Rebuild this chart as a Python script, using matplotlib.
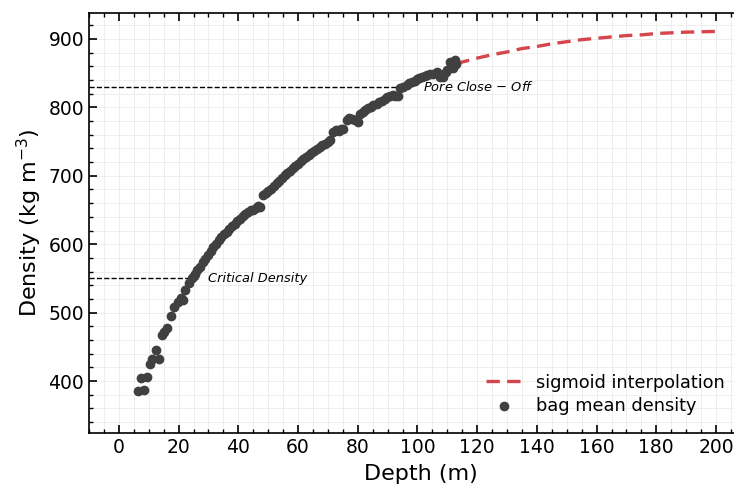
import matplotlib.pyplot as plt
from matplotlib.ticker import MultipleLocator

# bag mean density (depth in m, density in kg m^-3)
depth = [6.5, 7.4, 8.5, 9.4, 10.4, 11.2, 12.4, 13.4, 14.5, 15.2, 16.0, 17.4,
         18.5, 19.7, 20.8, 21.5, 22.3, 23.5, 24.4, 25.0, 25.5, 26.3, 27.1, 28.2,
         28.8, 29.9, 30.7, 31.6, 32.5, 33.4, 34.3, 35.2, 36.1, 37.0, 37.9, 38.8,
         39.7, 40.6, 41.5, 42.4, 43.3, 44.2, 45.0, 45.9, 46.6, 47.2, 48.3, 49.2,
         50.1, 51.0, 51.9, 52.8, 53.7, 54.6, 55.5, 56.4, 57.3, 58.2, 59.1, 60.0,
         60.9, 61.8, 62.7, 63.6, 64.5, 65.4, 66.3, 67.2, 68.1, 69.0, 69.9, 70.7,
         71.8, 72.7, 73.6, 74.5, 75.1, 76.3, 77.2, 78.1, 79.0, 80.2, 80.7, 81.6,
         82.5, 83.4, 84.3, 85.2, 86.3, 87.2, 88.1, 89.0, 89.9, 90.8, 91.7, 92.6,
         93.6, 94.0, 95.0, 96.4, 97.3, 98.2, 99.2, 99.7, 100.6, 101.5, 102.4,
         103.3, 104.2, 105.3, 106.5, 107.5, 108.5, 109.4, 110.0, 110.9, 111.8,
         112.5, 113.0]
density = [386, 404, 387, 406, 425, 432, 446, 432, 467, 472, 477, 495,
           508, 516, 521, 519, 533, 543, 550, 553, 557, 562, 567, 574,
           579, 584, 590, 596, 600, 606, 611, 615, 618, 622, 626, 630,
           634, 637, 641, 644, 647, 650, 650, 653, 656, 655, 672, 675,
           678, 681, 685, 689, 693, 697, 701, 704, 707, 711, 714, 717,
           721, 724, 728, 731, 733, 736, 739, 742, 745, 747, 750, 752,
           764, 767, 765, 769, 768, 782, 785, 783, 781, 778, 791, 793,
           796, 799, 801, 803, 805, 808, 810, 812, 815, 817, 818, 816,
           817, 828, 830, 832, 835, 837, 839, 842, 843, 845, 846,
           848, 849, 849, 852, 845, 844, 852, 854, 867, 858,
           869, 864]

# sigmoid interpolation
sig_depth = [113, 120, 125, 130, 135, 140, 145, 150, 155, 160, 165, 170,
             175, 180, 185, 190, 195, 200]
sig_density = [864, 872, 877, 881, 886, 889, 893, 896, 899, 901, 903, 905,
               906, 908, 909, 910, 910.5, 911]

critical_density = 550
critical_depth = 24.5
closeoff_density = 830
closeoff_depth = 94

fig = plt.figure(figsize=(7.34, 4.88), dpi=100)
# right edge of the axes falls just outside the picture
ax = fig.add_axes([0.1213, 0.1127, 0.903, 0.8607])

ax.grid(which='both', color='#ebebeb', linewidth=0.6)
ax.set_axisbelow(True)

ax.plot(sig_depth, sig_density, '--', color='#d6444c', linewidth=2.4,
        dashes=(4, 2.2), label='sigmoid interpolation', zorder=2)
ax.scatter(depth, density, s=36, color='#404040', label='bag mean density',
           zorder=3)

ax.hlines(closeoff_density, -10, closeoff_depth, colors='black',
          linestyles='--', linewidth=1.0, zorder=1)
ax.hlines(critical_density, -10, critical_depth, colors='black',
          linestyles='--', linewidth=1.0, zorder=1)
ax.text(closeoff_depth + 8, closeoff_density, 'Pore Close $-$ Off',
        style='italic', fontsize=9.4, va='center')
ax.text(critical_depth + 5.5, critical_density, 'Critical Density',
        style='italic', fontsize=9.4, va='center')

ax.set_xlim(-10, 212)
ax.set_ylim(324, 938)
ax.xaxis.set_major_locator(MultipleLocator(20))
ax.xaxis.set_minor_locator(MultipleLocator(5))
ax.yaxis.set_major_locator(MultipleLocator(100))
ax.yaxis.set_minor_locator(MultipleLocator(20))
ax.tick_params(which='both', direction='in', top=True, right=False,
               labelsize=13.5)
ax.tick_params(which='major', length=6, width=1.2)
ax.tick_params(which='minor', length=3, width=1.0)
for s in ax.spines.values():
    s.set_linewidth(1.2)
ax.spines['right'].set_visible(False)

ax.set_xlabel('Depth (m)', fontsize=16, labelpad=5)
ax.set_ylabel('Density (kg m$^{-3}$)', fontsize=16, labelpad=3)

ax.legend(loc='lower right', frameon=False, fontsize=12.8,
          bbox_to_anchor=(0.983, 0.005), handlelength=2.0,
          labelspacing=0.3)

fig.savefig('out.png', dpi=100)
